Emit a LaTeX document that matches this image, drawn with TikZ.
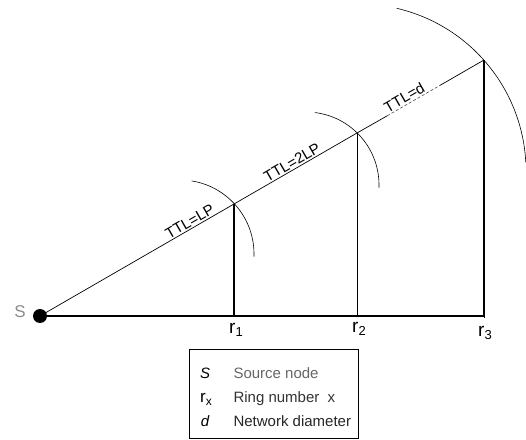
\documentclass[tikz,border=0pt]{standalone}
\usepackage{fontspec}
\setmainfont{Liberation Sans}
\usetikzlibrary{calc}

\newcommand{\ringlbl}[1]{{\fontsize{19}{19}\selectfont r}\raisebox{-3pt}{\fontsize{13}{13}\selectfont #1}}

\begin{document}
\begin{tikzpicture}[
    x=1pt, y=1pt,
    font=\fontsize{15}{17}\selectfont,
    ttl/.style={sloped, above, inner sep=1.5pt},
    ringarc/.style={line width=0.6pt},
]
\useasboundingbox (0,0) rectangle (526,439);

% ---- source and ring points ----
\coordinate (S) at (40,123);
\coordinate (f1) at (234,123);
\coordinate (f2) at (357,123);
\coordinate (f3) at (484,123);
\coordinate (p1) at (234,235);
\coordinate (p2) at (357,306);
\coordinate (p3) at (484,379);
\coordinate (d1) at ($(S)!0.782!(p3)$);
\coordinate (d2) at ($(S)!0.901!(p3)$);

% ---- base line and verticals ----
\draw[line width=1.4pt] (S) -- (f3);
\draw[line width=1.4pt] (f1) -- (p1);
\draw[line width=0.7pt] (f2) -- (p2);
\draw[line width=1.4pt] (f3) -- (p3);
\draw (f3) ++(0,-2) -- ++(0,4);

% ---- TTL line ----
\draw[line width=0.7pt] (S) -- node[ttl, pos=0.79] {TTL=LP} (p1);
\draw[line width=0.7pt] (p1) -- node[ttl, pos=0.5] {TTL=2LP} (p2);
\draw[line width=0.7pt] (p2) -- (d1);
\draw[line width=0.6pt, black!70, dash pattern=on 3pt off 2pt] (d1) -- (d2);
\draw[line width=0.7pt] (d2) -- (p3);
\path (p2) -- node[ttl, pos=0.4] {TTL=d} (p3);

% ---- ring arcs ----
\coordinate (c1) at ($(p1)+(-54,-50)$);
\coordinate (c2) at ($(p2)+(-51,-52)$);
\coordinate (c3) at ($(p3)+(-125,-111)$);
\draw[ringarc] ([shift={(81:74)}]c1) arc[start angle=81, end angle=-2, radius=74];
\draw[ringarc] ([shift={(83:73)}]c2) arc[start angle=83, end angle=-2, radius=73];
\draw[ringarc] ([shift={(77:167)}]c3) arc[start angle=77, end angle=3, radius=167];

% ---- source node ----
\node[circle, fill, inner sep=0pt, minimum size=14] (src) at (S) {};
\node[text=black!45, font=\fontsize{17}{19}\selectfont] (srclbl) at (20,127) {S};

% ---- ring labels ----
\node[anchor=base west, inner sep=0pt] (r1) at (229,106) {\ringlbl{1}};
\node[anchor=base west, inner sep=0pt] (r2) at (352,107) {\ringlbl{2}};
\node[anchor=base west, inner sep=0pt] (r3) at (478,103) {\ringlbl{3}};

% ---- legend ----
\draw[line width=0.7pt] (189,1) rectangle (358,90);
\node[anchor=base, font=\fontsize{15}{17}\selectfont\itshape] (kS) at (205,61) {S};
\node[anchor=base, inner sep=0pt] (kr) at (206,37) {{\fontsize{17}{17}\selectfont r}\raisebox{-3pt}{\fontsize{12}{12}\selectfont x}};
\node[anchor=base, font=\fontsize{15}{17}\selectfont\itshape] (kd) at (205,13) {d};
\node[anchor=base west, text=black!60] (tS) at (230,61) {Source node};
\node[anchor=base west, text=black!80] (tr) at (230,37) {Ring number\ \ x};
\node[anchor=base west, text=black!85] (td) at (230,13) {Network diameter};

\end{tikzpicture}
\end{document}
